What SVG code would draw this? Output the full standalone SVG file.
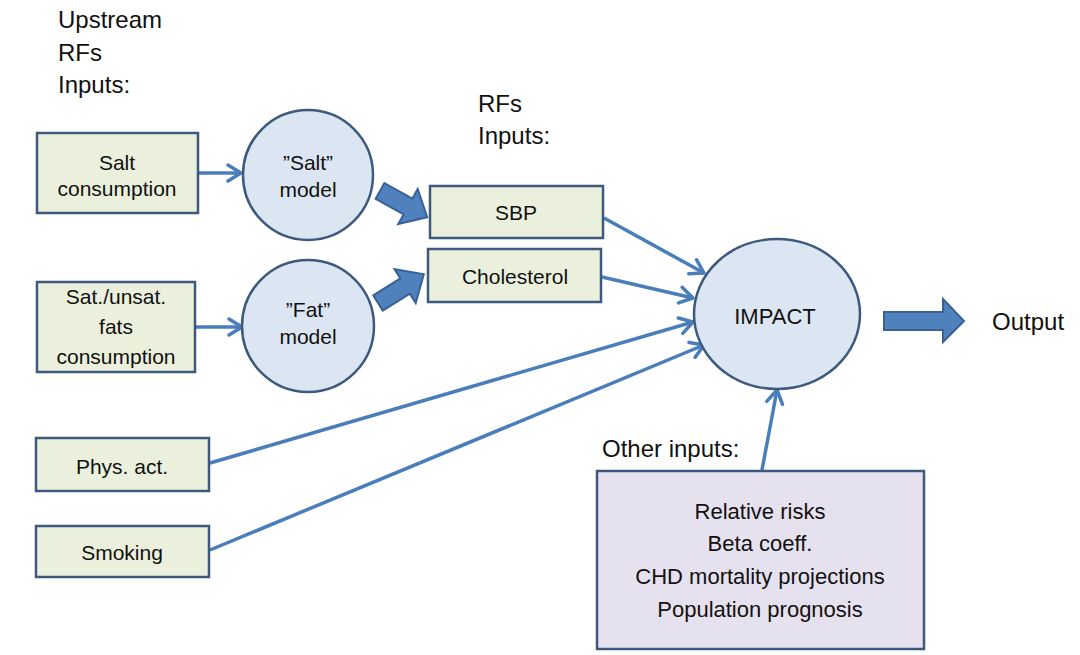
<svg xmlns="http://www.w3.org/2000/svg" width="1080" height="655" viewBox="0 0 1080 655">
<defs>
<style>
text{font-family:"Liberation Sans",Arial,sans-serif;fill:#111;}
.t{font-size:21px;text-anchor:middle;}
.h{font-size:24px;}
.box{fill:#ebf0dd;stroke:#3d5a7e;stroke-width:2.5;}
.circ{fill:#dce6f2;stroke:#3d5a7e;stroke-width:2.5;}
.other{fill:#e6e1ee;stroke:#3d5a7e;stroke-width:2.5;}
.con{fill:none;stroke:#4a7ebb;stroke-width:3.5;marker-end:url(#ah);}
.block{fill:#4f81bd;stroke:#3a6196;stroke-width:2;}
</style>
<marker id="ah" markerUnits="userSpaceOnUse" markerWidth="22" markerHeight="22" viewBox="0 0 22 22" refX="19" refY="11" orient="auto">
<path d="M6,3 L19,11 L6,19" fill="none" stroke="#4a7ebb" stroke-width="3.5" stroke-linecap="round" stroke-linejoin="round"/>
</marker>
</defs>
<rect width="1080" height="655" fill="#ffffff"/>

<g id="labels">
<text class="h" x="58" y="28">Upstream</text>
<text class="h" x="58" y="61">RFs</text>
<text class="h" x="58" y="93">Inputs:</text>
<text class="h" x="478" y="112">RFs</text>
<text class="h" x="478" y="144">Inputs:</text>
<text class="h" x="602" y="457">Other inputs:</text>
<text class="h" x="992" y="330">Output</text>
</g>

<g id="connectors">
<line class="con" x1="199" y1="173" x2="241" y2="173"/>
<line class="con" x1="196" y1="327" x2="242" y2="327"/>
<line class="con" x1="604" y1="218" x2="704" y2="273"/>
<line class="con" x1="602" y1="277" x2="693" y2="298"/>
<line class="con" x1="210" y1="463" x2="693" y2="322"/>
<line class="con" x1="210" y1="550" x2="704" y2="345"/>
<line class="con" x1="762" y1="470" x2="777" y2="390"/>
<polygon class="block" transform="translate(380,191) rotate(29)" points="0,-9 32,-9 32,-20 54,0 32,20 32,9 0,9"/>
<polygon class="block" transform="translate(378,303) rotate(-32)" points="0,-9 32,-9 32,-20 54,0 32,20 32,9 0,9"/>
<polygon class="block" points="884,312 943,312 943,299 964,321 943,342 943,330 884,330"/>
</g>

<g id="salt-consumption">
<rect class="box" x="37" y="133" width="161" height="80"/>
<text class="t" x="117" y="170">Salt</text>
<text class="t" x="117" y="196">consumption</text>
</g>

<g id="salt-model">
<circle class="circ" cx="308" cy="175" r="65"/>
<text class="t" x="308" y="170">”Salt”</text>
<text class="t" x="308" y="197">model</text>
</g>

<g id="fats-consumption">
<rect class="box" x="37" y="282" width="158" height="90"/>
<text class="t" x="116" y="304">Sat./unsat.</text>
<text class="t" x="116" y="334">fats</text>
<text class="t" x="116" y="364">consumption</text>
</g>

<g id="fat-model">
<circle class="circ" cx="308" cy="326" r="66"/>
<text class="t" x="308" y="317">”Fat”</text>
<text class="t" x="308" y="344">model</text>
</g>

<g id="sbp">
<rect class="box" x="430" y="186" width="173" height="52"/>
<text class="t" x="516" y="220">SBP</text>
</g>

<g id="cholesterol">
<rect class="box" x="428" y="249" width="173" height="53"/>
<text class="t" x="515" y="284">Cholesterol</text>
</g>

<g id="phys-act">
<rect class="box" x="36" y="438" width="173" height="53"/>
<text class="t" x="122" y="474">Phys. act.</text>
</g>

<g id="smoking">
<rect class="box" x="36" y="526" width="173" height="51"/>
<text class="t" x="122" y="560">Smoking</text>
</g>

<g id="impact">
<ellipse class="circ" cx="777" cy="314" rx="83" ry="75"/>
<text x="775" y="324" style="font-size:22px;text-anchor:middle">IMPACT</text>
</g>

<g id="other-inputs">
<rect class="other" x="597" y="471" width="327" height="178"/>
<text class="t" x="760" y="519" style="font-size:22px">Relative risks</text>
<text class="t" x="760" y="551" style="font-size:22px">Beta coeff.</text>
<text class="t" x="760" y="584" style="font-size:22px">CHD mortality projections</text>
<text class="t" x="760" y="617" style="font-size:22px">Population prognosis</text>
</g>
</svg>
